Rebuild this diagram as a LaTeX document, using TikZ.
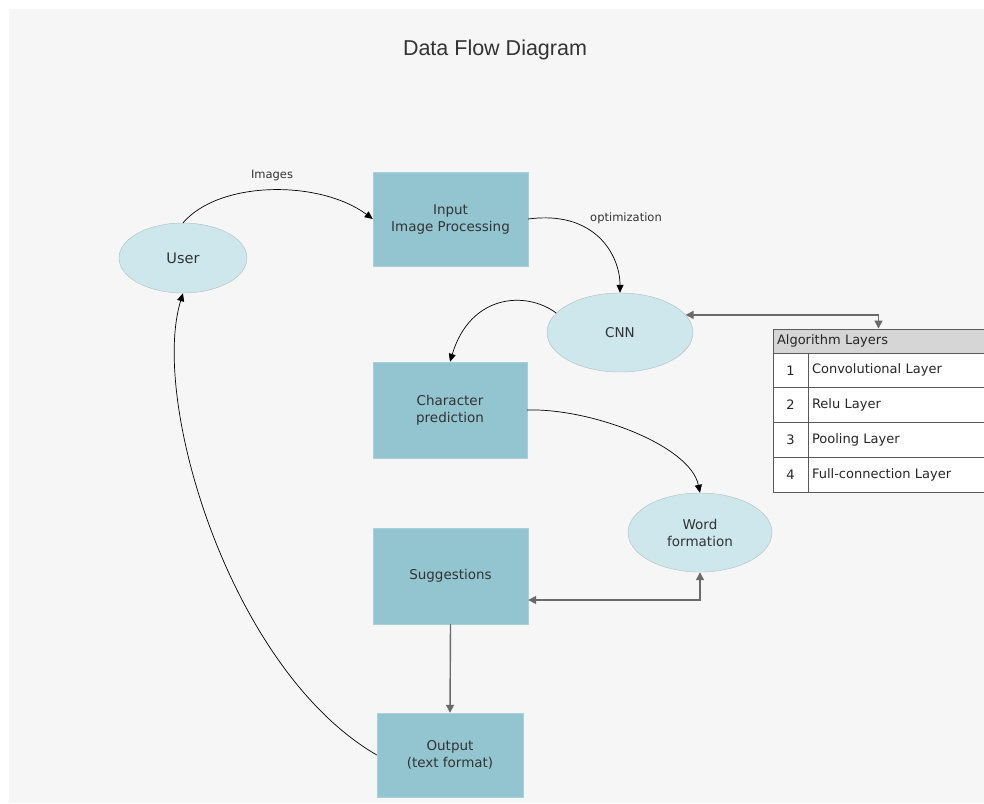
\documentclass[tikz,border=0pt]{standalone}
\usepackage{fontspec}
\setmainfont{DejaVu Sans}
\newfontfamily\titlefont{Liberation Sans}
\usepackage{xcolor}
\usetikzlibrary{arrows.meta,shapes.geometric,calc}
\definecolor{bgcol}{HTML}{F6F6F6}
\definecolor{boxfill}{HTML}{93C5D1}
\definecolor{boxline}{HTML}{A9CFD8}
\definecolor{ovalfill}{HTML}{CDE7EC}
\definecolor{ovalline}{HTML}{AEBDC0}
\definecolor{txt}{HTML}{333333}
\definecolor{linkgray}{HTML}{6A6A6A}
\definecolor{tabline}{HTML}{5A5A5A}
\definecolor{headfill}{HTML}{D6D6D6}
\tikzset{
  procbox/.style={draw=boxline,fill=boxfill,text=txt,align=center,
    font=\fontsize{13.5}{17}\selectfont,inner sep=2pt},
  oval/.style={ellipse,draw=ovalline,fill=ovalfill,text=txt,align=center,
    font=\fontsize{13.5}{17}\selectfont,inner sep=1pt},
  flow/.style={draw=black,line width=0.7pt,-{Triangle[length=8pt,width=7pt]}},
  twoway/.style={draw=linkgray,line width=1.4pt,
    {Triangle[length=8pt,width=8pt]}-{Triangle[length=8pt,width=8pt]}},
  oneway/.style={draw=linkgray,line width=1.4pt,-{Triangle[length=8pt,width=8pt]}},
  lbl/.style={font=\fontsize{11.5}{14}\selectfont,text=txt},
  cell/.style={draw=tabline,line width=0.9pt,fill=white,minimum height=34.75pt,
    font=\fontsize{13}{16}\selectfont,text=black!85}
}
\begin{document}
\begin{tikzpicture}[x=1pt,y=-1pt]
    \useasboundingbox (0,0) rectangle (984,803);
    \fill[white] (0,0) rectangle (984,803);
    \fill[bgcol] (9,9) rectangle (984,803);
    \node[font=\titlefont\fontsize{21.5}{26}\selectfont,text=txt,anchor=base] (title) at (495,55) {Data Flow Diagram};

    \node[oval,font=\fontsize{14.5}{17}\selectfont,minimum width=128pt,minimum height=70pt] (user) at (183,258) {User};
    \node[procbox,minimum width=155pt,minimum height=94pt] (input) at (450.5,219) {Input\\Image Processing};
    \node[oval,minimum width=146pt,minimum height=79pt] (cnn) at (620,332.5) {CNN};
    \node[procbox,minimum width=154pt,minimum height=96pt] (char) at (450,410) {Character\\prediction};
    \node[oval,minimum width=144pt,minimum height=79pt] (word) at (700,532.5) {Word\\formation};
    \node[procbox,minimum width=155pt,minimum height=96pt] (sugg) at (450.5,576) {Suggestions};
    \node[procbox,minimum width=146pt,minimum height=84pt] (output) at (450,755) {Output\\(text format)};

    \node[draw=tabline,line width=0.9pt,fill=headfill,minimum height=24pt,text width=203pt,inner sep=4pt,
      align=left,font=\fontsize{13}{16}\selectfont,text=black!85] (layers) at (878.5,341) {Algorithm Layers};
    \foreach \n/\layer in {1/Convolutional Layer,2/Relu Layer,3/Pooling Layer,4/Full-connection Layer}
    {
      \node[cell,minimum width=35pt,inner sep=0pt] (num\n) at (790.5,{353+(\n-0.5)*34.75}) {\n};
      \node[cell,text width=168pt,inner sep=4pt,align=left] (layer\n) at (896,{353+(\n-0.5)*34.75}) {\layer};
    }

    \draw[flow] (user.north) .. controls (220,180) and (320,180) .. (input.west);
    \node[lbl] (imglbl) at (272,176) {Images};
    \draw[flow] (input.east) .. controls (595,210) and (620,255) .. (cnn.north);
    \node[lbl] (optlbl) at (626,218) {optimization};
    \draw[flow] (cnn.163) .. controls (525,290) and (470,295) .. (char.north);
    \draw[flow] (char.east) .. controls (590,408) and (690,445) .. (word.north);
    \draw[flow] (output.west) .. controls (230,670) and (150,400) .. (user.south);
    \draw[twoway] (cnn.15) -| (layers.north);
    \draw[twoway] (word.south) |- ([yshift=-24pt]sugg.east);
    \draw[oneway] (sugg.south) -- (output.north);
  \end{tikzpicture}
\end{document}
